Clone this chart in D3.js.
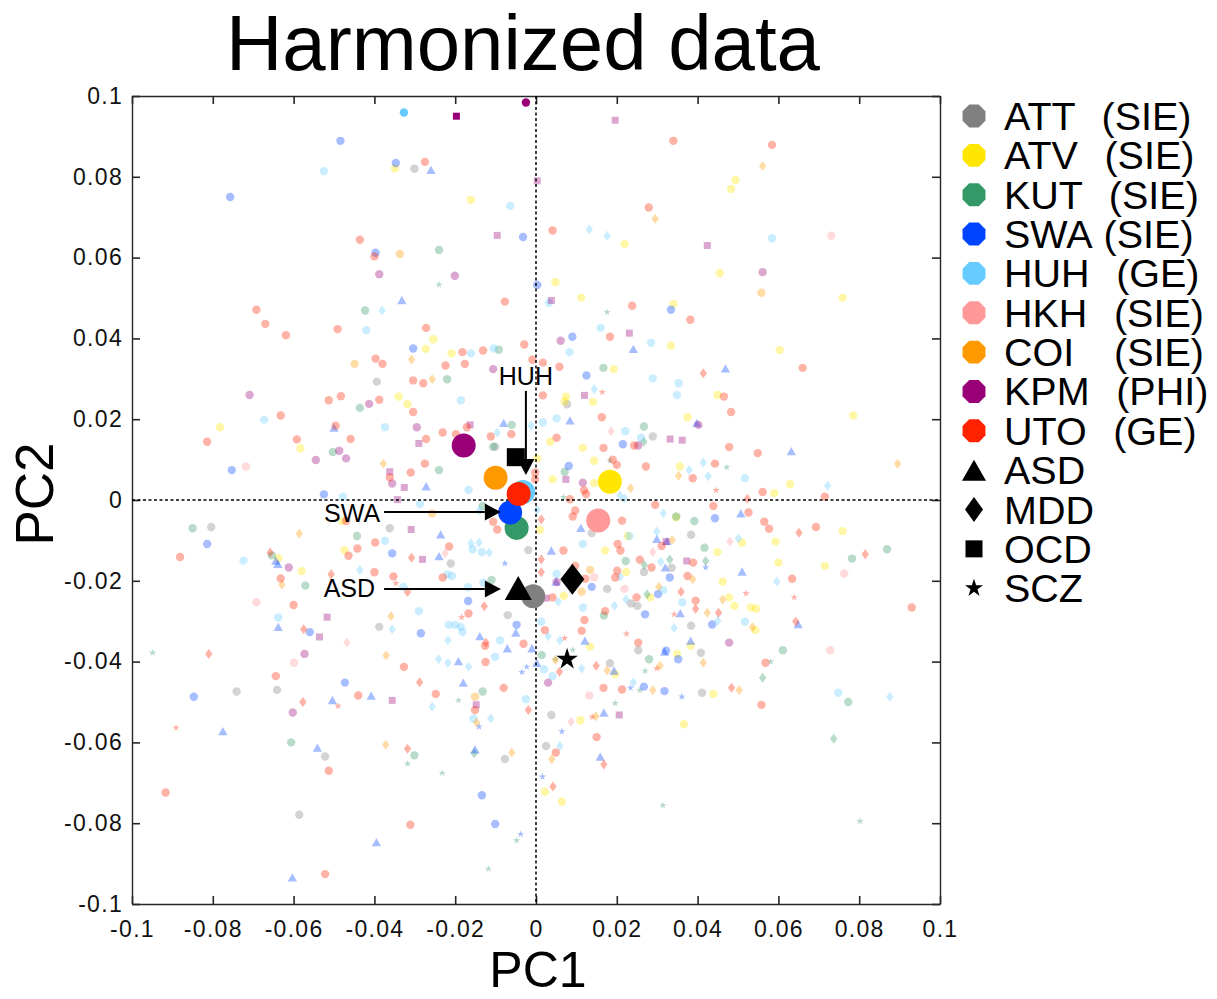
<!DOCTYPE html>
<html>
<head>
<meta charset="utf-8">
<title>Harmonized data</title>
<script src="https://d3js.org/d3.v7.min.js"></script>
<style>
  body { margin: 0; background: #fff; }
  svg text { font-family: "Liberation Sans", Arial, sans-serif; }
</style>
</head>
<body>
<svg id="chart" width="1217" height="999"></svg>
<script>
// cohorts (sites) and their colours
const cohorts = ["ATT", "ATV", "KUT", "SWA", "HUH", "HKH", "COI", "KPM", "UTO"];
const cohortLabels = ["ATT  (SIE)", "ATV  (SIE)", "KUT  (SIE)", "SWA (SIE)", "HUH  (GE)",
                      "HKH  (SIE)", "COI   (SIE)", "KPM  (PHI)", "UTO  (GE)"];
const cohortColors = ["#808080", "#ffe600", "#339966", "#0044ff", "#66ccff",
                      "#ff9999", "#ff9900", "#990077", "#ff2200"];
// disorders and their markers
const disorders = ["ASD", "MDD", "OCD", "SCZ"];
const disorderShapes = ["^", "d", "s", "p"];

// ticks
const tickValues = [-0.1, -0.08, -0.06, -0.04, -0.02, 0, 0.02, 0.04, 0.06, 0.08, 0.1];
const tickLabels = ["-0.1", "-0.08", "-0.06", "-0.04", "-0.02", "0", "0.02", "0.04", "0.06", "0.08", "0.1"];

// centroids [PC1, PC2]
const cohortCentroids = [
  [-0.0007, -0.0238], [0.0183, 0.0045], [-0.0048, -0.0069], [-0.0064, -0.0031], [-0.0032, 0.0020],
  [0.0154, -0.0051], [-0.0100, 0.0055], [-0.0179, 0.0135], [-0.0043, 0.0015]
];
const disorderCentroids = [[-0.0044, -0.0218], [0.0090, -0.0196], [-0.0050, 0.0106], [0.0077, -0.0394]];

// individual subjects [PC1, PC2, disorder marker]
const attPts = [
  [-0.0301,0.0820,"o"],[-0.0394,0.0293,"o"],[-0.0101,0.0132,"o"],[0.0077,0.0237,"o"],[0.0289,0.0157,"o"],
  [-0.0804,-0.0067,"o"],[-0.0362,-0.0070,"o"],[-0.0211,-0.0157,"o"],[-0.0019,-0.0124,"o"],[-0.0070,-0.0285,"o"],
  [-0.0388,-0.0314,"o"],[-0.0741,-0.0474,"o"],[-0.0641,-0.0470,"o"],[-0.0522,-0.0635,"o"],[-0.0077,-0.0641,"o"],
  [-0.0586,-0.0779,"o"],[0.0138,-0.0082,"o"],[0.0384,-0.0086,"o"],[0.0336,-0.0168,"o"],[0.0267,-0.0178,"o"],
  [0.0176,-0.0220,"o"],[0.0235,-0.0256,"o"],[0.0251,-0.0262,"o"],[0.0384,-0.0311,"o"],[0.0253,-0.0372,"o"],
  [0.0183,-0.0404,"o"],[0.0408,-0.0378,"o"],[0.0411,-0.0477,"o"],[0.0038,-0.0532,"o"],[0.0025,-0.0609,"o"]
];
const atvPts = [
  [-0.0349,0.0821,"o"],[-0.0161,0.0743,"o"],[0.0494,0.0792,"o"],[0.0483,0.0770,"o"],[0.0219,0.0634,"o"],
  [0.0455,0.0562,"o"],[0.0759,0.0501,"o"],[0.0048,0.0539,"o"],[0.0112,0.0501,"o"],[-0.0254,0.0398,"o"],
  [-0.0273,0.0374,"o"],[-0.0209,0.0363,"o"],[-0.0340,0.0256,"o"],[-0.0318,0.0237,"o"],[-0.0782,0.0180,"o"],
  [-0.0583,0.0128,"o"],[0.0340,0.0485,"o"],[0.0334,0.0382,"o"],[0.0603,0.0371,"o"],[0.0192,0.0324,"o"],
  [0.0074,0.0256,"o"],[0.0071,0.0244,"o"],[0.0141,0.0243,"o"],[0.0449,0.0260,"o"],[0.0785,0.0209,"o"],
  [0.0375,0.0205,"o"],[0.0035,0.0144,"o"],[0.0116,0.0129,"o"],[0.0003,0.0103,"o"],[0.0144,0.0097,"o"],
  [0.0356,0.0083,"o"],[0.0041,0.0051,"o"],[0.0144,0.0042,"o"],[0.0629,0.0039,"o"],[0.0590,0.0017,"o"],
  [-0.0480,-0.0052,"o"],[-0.0474,-0.0124,"o"],[-0.0638,-0.0144,"o"],[-0.0580,-0.0176,"o"],[0.0010,-0.0074,"o"],
  [0.0347,-0.0043,"o"],[0.0759,-0.0077,"o"],[0.0227,-0.0089,"o"],[0.0510,-0.0106,"o"],[0.0593,-0.0103,"o"],
  [0.0171,-0.0125,"o"],[0.0449,-0.0129,"o"],[0.0600,-0.0155,"o"],[0.0715,-0.0163,"o"],[0.0462,-0.0202,"o"],
  [0.0223,-0.0178,"o"],[0.0069,-0.0237,"o"],[0.0283,-0.0241,"o"],[0.0478,-0.0241,"o"],[0.0491,-0.0262,"o"],
  [0.0532,-0.0266,"o"],[0.0545,-0.0269,"o"],[0.0543,-0.0322,"o"],[0.0134,-0.0363,"o"],[0.0383,-0.0361,"o"],
  [0.0196,-0.0431,"o"],[0.0349,-0.0381,"o"],[0.0439,-0.0480,"o"],[0.0366,-0.0555,"o"],[0.0110,-0.0545,"o"],
  [0.0022,-0.0722,"o"],[0.0064,-0.0747,"o"]
];
const kutPts = [
  [-0.0240,0.0619,"o"],[-0.0240,0.0533,"p"],[-0.0423,0.0469,"o"],[-0.0092,0.0372,"o"],[-0.0220,0.0299,"o"],
  [-0.0436,0.0228,"o"],[-0.0060,0.0186,"o"],[-0.0106,0.0132,"o"],[-0.0503,0.0119,"o"],[-0.0240,0.0074,"o"],
  [0.0176,0.0465,"p"],[0.0167,0.0327,"o"],[0.0267,0.0182,"o"],[0.0267,0.0144,"d"],[0.0183,0.0098,"p"],
  [0.0472,0.0081,"p"],[0.0071,0.0070,"o"],[-0.0132,-0.0015,"o"],[-0.0850,-0.0070,"o"],[-0.0443,-0.0089,"o"],
  [-0.0654,-0.0137,"o"],[-0.0571,-0.0212,"o"],[-0.0110,-0.0198,"o"],[-0.0949,-0.0378,"p"],[-0.0132,-0.0474,"o"],
  [-0.0192,-0.0496,"p"],[-0.0606,-0.0600,"o"],[-0.0301,-0.0632,"o"],[-0.0318,-0.0653,"p"],[-0.0232,-0.0676,"p"],
  [-0.0153,-0.0627,"d"],[-0.0048,-0.0843,"p"],[-0.0118,-0.0913,"p"],[0.0068,0.0007,"p"],[0.0347,-0.0041,"o"],
  [0.0392,-0.0052,"o"],[0.0417,-0.0118,"o"],[0.0782,-0.0145,"o"],[0.0869,-0.0122,"o"],[0.0222,-0.0151,"o"],
  [0.0331,-0.0147,"d"],[0.0268,-0.0161,"d"],[0.0420,-0.0151,"d"],[0.0275,-0.0233,"d"],[0.0168,-0.0286,"o"],
  [0.0611,-0.0372,"o"],[0.0014,-0.0384,"o"],[0.0091,-0.0371,"p"],[0.0048,-0.0394,"p"],[0.0280,-0.0394,"o"],
  [0.0270,-0.0423,"p"],[0.0581,-0.0400,"p"],[0.0561,-0.0440,"d"],[0.0257,-0.0471,"p"],[0.0773,-0.0500,"o"],
  [0.0196,-0.0503,"p"],[0.0314,-0.0756,"p"],[0.0737,-0.0591,"d"],[0.0802,-0.0795,"p"]
];
const swaPts = [
  [-0.0484,0.0889,"o"],[-0.0347,0.0834,"o"],[-0.0260,0.0817,"^"],[-0.0757,0.0750,"o"],[-0.0032,0.0651,"o"],
  [-0.0397,0.0612,"o"],[0.0003,0.0532,"o"],[-0.0332,0.0495,"^"],[-0.0304,0.0375,"o"],[-0.0500,0.0179,"^"],
  [-0.0080,0.0191,"^"],[-0.0753,0.0074,"o"],[-0.0272,0.0034,"^"],[-0.0525,0.0014,"o"],[0.0334,0.0471,"o"],
  [0.0090,0.0404,"o"],[0.0241,0.0374,"^"],[0.0125,0.0308,"o"],[0.0469,0.0326,"^"],[0.0084,0.0197,"^"],
  [0.0398,0.0191,"^"],[0.0215,0.0138,"o"],[0.0632,0.0121,"^"],[0.0081,0.0084,"o"],[-0.0236,-0.0085,"^"],
  [-0.0814,-0.0109,"o"],[-0.0356,-0.0132,"o"],[-0.0240,-0.0139,"^"],[-0.0644,-0.0150,"^"],[-0.0639,-0.0158,"^"],
  [-0.0077,-0.0157,"p"],[-0.0168,-0.0250,"o"],[-0.0638,-0.0314,"^"],[-0.0560,-0.0327,"o"],[-0.0285,-0.0330,"o"],
  [-0.0139,-0.0337,"^"],[-0.0048,-0.0309,"o"],[-0.0050,-0.0328,"^"],[-0.0071,-0.0367,"^"],[-0.0010,-0.0367,"^"],
  [-0.0192,-0.0399,"^"],[-0.0023,-0.0413,"p"],[-0.0035,-0.0426,"p"],[0.0002,-0.0403,"^"],[-0.0473,-0.0452,"o"],
  [-0.0180,-0.0452,"^"],[-0.0847,-0.0487,"o"],[-0.0504,-0.0495,"^"],[-0.0408,-0.0484,"^"],[-0.0141,-0.0561,"p"],
  [-0.0775,-0.0572,"^"],[-0.0541,-0.0613,"^"],[-0.0151,-0.0617,"^"],[-0.0134,-0.0731,"o"],[-0.0101,-0.0802,"o"],
  [-0.0395,-0.0847,"^"],[-0.0038,-0.0827,"p"],[-0.0603,-0.0934,"^"],[0.0111,-0.0069,"^"],[0.0443,-0.0045,"o"],
  [0.0507,-0.0033,"^"],[0.0299,-0.0096,"^"],[0.0324,-0.0101,"^"],[0.0038,-0.0125,"^"],[0.0320,-0.0167,"^"],
  [0.0420,-0.0167,"p"],[0.0510,-0.0177,"^"],[0.0050,-0.0202,"^"],[0.0331,-0.0192,"o"],[0.0138,-0.0215,"o"],
  [0.0302,-0.0233,"o"],[0.0270,-0.0283,"o"],[0.0357,-0.0280,"^"],[0.0649,-0.0307,"^"],[0.0436,-0.0308,"o"],
  [0.0121,-0.0348,"^"],[0.0383,-0.0348,"^"],[0.0193,-0.0422,"^"],[0.0318,-0.0375,"^"],[0.0322,-0.0373,"o"],
  [0.0352,-0.0394,"o"],[0.0234,-0.0465,"p"],[0.0267,-0.0462,"o"],[0.0318,-0.0473,"o"],[0.0361,-0.0487,"p"],
  [0.0168,-0.0526,"^"],[0.0064,-0.0573,"p"],[0.0159,-0.0635,"^"],[0.0016,-0.0685,"p"]
];
const huhPts = [
  [-0.0525,0.0814,"o"],[-0.0064,0.0728,"o"],[0.0132,0.0670,"d"],[0.0176,0.0654,"d"],[0.0584,0.0648,"o"],
  [-0.0381,0.0469,"d"],[-0.0420,0.0420,"o"],[-0.0161,0.0363,"o"],[-0.0105,0.0375,"o"],[-0.0186,0.0247,"o"],
  [-0.0673,0.0199,"o"],[-0.0374,0.0180,"o"],[-0.0096,0.0167,"d"],[-0.0012,0.0184,"d"],[-0.0478,0.0008,"o"],
  [-0.0167,0.0025,"o"],[0.0032,0.0488,"o"],[0.0160,0.0426,"o"],[0.0083,0.0366,"o"],[0.0285,0.0389,"o"],
  [0.0289,0.0301,"o"],[0.0353,0.0289,"o"],[0.0144,0.0274,"d"],[0.0349,0.0260,"o"],[0.0017,0.0192,"o"],
  [0.0051,0.0202,"o"],[0.0221,0.0170,"o"],[0.0260,0.0154,"o"],[0.0379,0.0074,"d"],[0.0414,0.0093,"d"],
  [0.0426,0.0059,"d"],[0.0517,0.0054,"o"],[0.0722,0.0035,"d"],[0.0208,0.0012,"d"],[0.0219,0.0004,"d"],
  [-0.0287,-0.0010,"o"],[-0.0140,-0.0026,"d"],[-0.0374,-0.0101,"o"],[-0.0161,-0.0107,"d"],[-0.0141,-0.0105,"d"],
  [-0.0116,-0.0130,"d"],[-0.0157,-0.0122,"o"],[-0.0134,-0.0129,"o"],[-0.0724,-0.0150,"o"],[-0.0436,-0.0173,"d"],
  [-0.0328,-0.0215,"o"],[-0.0219,-0.0184,"o"],[-0.0208,-0.0188,"o"],[-0.0130,-0.0205,"o"],[-0.0168,-0.0216,"o"],
  [-0.0290,-0.0275,"o"],[-0.0638,-0.0291,"o"],[-0.0356,-0.0320,"d"],[-0.0216,-0.0309,"o"],[-0.0200,-0.0309,"o"],
  [-0.0186,-0.0314,"o"],[-0.0182,-0.0327,"o"],[-0.0218,-0.0347,"d"],[-0.0089,-0.0347,"o"],[-0.0101,-0.0388,"o"],
  [-0.0241,-0.0394,"d"],[-0.0218,-0.0403,"d"],[-0.0167,-0.0413,"d"],[-0.0257,-0.0512,"d"],[-0.0155,-0.0541,"o"],
  [-0.0112,-0.0541,"d"],[-0.0025,-0.0493,"o"],[0.0003,-0.0025,"d"],[0.0315,-0.0033,"d"],[0.0299,-0.0078,"d"],
  [0.0231,-0.0089,"o"],[0.0501,-0.0095,"d"],[0.0116,-0.0109,"o"],[0.0309,-0.0153,"d"],[0.0596,-0.0202,"d"],
  [0.0051,-0.0183,"o"],[0.0208,-0.0190,"d"],[0.0315,-0.0223,"o"],[0.0055,-0.0252,"d"],[0.0223,-0.0246,"d"],
  [0.0362,-0.0253,"o"],[0.0116,-0.0266,"o"],[0.0194,-0.0262,"d"],[0.0013,-0.0301,"o"],[0.0517,-0.0301,"o"],
  [0.0450,-0.0299,"d"],[0.0342,-0.0317,"d"],[0.0030,-0.0337,"d"],[0.0059,-0.0347,"d"],[0.0020,-0.0419,"o"],
  [0.0041,-0.0436,"o"],[0.0113,-0.0417,"d"],[0.0241,-0.0452,"d"],[0.0748,-0.0477,"o"],[0.0876,-0.0487,"d"],
  [0.0059,-0.0609,"d"]
];
const hkhPts = [
  [0.0731,0.0654,"o"],[-0.0718,0.0083,"o"],[0.0186,0.0170,"d"],[-0.0225,-0.0132,"d"],[-0.0692,-0.0253,"o"],
  [-0.0468,-0.0353,"d"],[-0.0599,-0.0403,"o"],[0.0480,-0.0103,"d"],[0.0289,-0.0129,"d"],[0.0763,-0.0182,"o"],
  [0.0144,-0.0191,"o"],[0.0219,-0.0220,"o"],[0.0728,-0.0372,"o"],[0.0132,-0.0484,"o"],[0.0087,-0.0549,"d"]
];
const coiPts = [
  [-0.0337,0.0609,"o"],[0.0561,0.0827,"d"],[0.0295,0.0696,"d"],[0.0558,0.0513,"o"],[-0.0449,0.0337,"o"],
  [-0.0308,0.0348,"d"],[-0.0257,0.0299,"d"],[-0.0378,0.0090,"d"],[0.0895,0.0090,"d"],[0.0353,0.0060,"d"],
  [0.0234,0.0029,"d"],[-0.0257,-0.0033,"o"],[-0.0586,-0.0083,"d"],[-0.0629,-0.0209,"d"],[-0.0359,-0.0288,"d"],
  [-0.0371,-0.0385,"d"],[-0.0151,-0.0487,"o"],[-0.0147,-0.0551,"d"],[-0.0372,-0.0606,"d"],[-0.0060,-0.0625,"d"],
  [0.0337,-0.0099,"d"],[0.0134,-0.0173,"o"],[0.0388,-0.0196,"d"],[0.0113,-0.0227,"o"],[0.0304,-0.0215,"d"],
  [0.0462,-0.0246,"d"],[0.0424,-0.0279,"d"],[0.0536,-0.0315,"d"],[0.0048,-0.0396,"d"],[0.0176,-0.0422,"d"],
  [0.0307,-0.0410,"d"],[0.0414,-0.0403,"d"],[0.0289,-0.0471,"d"],[0.0503,-0.0470,"d"],[0.0148,-0.0535,"d"],
  [0.0039,-0.0642,"d"]
];
const kpmPts = [
  [-0.0096,0.0655,"s"],[-0.0388,0.0559,"o"],[-0.0201,0.0555,"o"],[0.0003,0.0790,"s"],[0.0196,0.0940,"s"],
  [0.0424,0.0630,"s"],[0.0561,0.0564,"o"],[0.0038,0.0494,"s"],[-0.0106,0.0324,"o"],[-0.0709,0.0260,"o"],
  [-0.0413,0.0238,"o"],[-0.0295,0.0180,"o"],[-0.0163,0.0186,"s"],[-0.0290,0.0140,"s"],[-0.0487,0.0122,"o"],
  [-0.0545,0.0099,"o"],[-0.0470,0.0103,"o"],[-0.0362,0.0070,"s"],[-0.0356,0.0041,"o"],[-0.0326,0.0031,"s"],
  [-0.0343,0.0001,"s"],[0.0231,0.0413,"s"],[0.0061,0.0394,"o"],[0.0120,0.0259,"s"],[0.0402,0.0186,"o"],
  [0.0253,0.0135,"o"],[0.0332,0.0151,"s"],[0.0362,0.0148,"s"],[0.0074,0.0051,"s"],[0.0116,0.0043,"o"],
  [-0.0309,-0.0073,"s"],[-0.0281,-0.0147,"s"],[-0.0612,-0.0167,"o"],[-0.0517,-0.0290,"s"],[-0.0536,-0.0339,"s"],
  [-0.0573,-0.0381,"o"],[-0.0356,-0.0496,"s"],[-0.0148,-0.0507,"s"],[-0.0602,-0.0526,"o"],[0.0322,-0.0103,"s"],
  [0.0373,-0.0151,"s"],[0.0051,-0.0203,"o"],[0.0025,-0.0243,"s"],[0.0478,-0.0353,"o"],[0.0030,-0.0452,"o"],
  [0.0206,-0.0532,"s"]
];
const utoPts = [
  [-0.0275,0.0837,"o"],[-0.0436,0.0644,"o"],[-0.0400,0.0603,"o"],[0.0340,0.0889,"o"],[0.0584,0.0879,"o"],
  [0.0279,0.0724,"o"],[0.0041,0.0667,"o"],[-0.0077,0.0491,"o"],[-0.0692,0.0471,"o"],[-0.0670,0.0436,"o"],
  [-0.0619,0.0408,"o"],[-0.0491,0.0423,"o"],[-0.0272,0.0426,"o"],[-0.0182,0.0366,"o"],[-0.0131,0.0370,"o"],
  [-0.0029,0.0385,"o"],[-0.0009,0.0347,"o"],[-0.0397,0.0350,"o"],[-0.0380,0.0337,"o"],[-0.0224,0.0333,"o"],
  [-0.0176,0.0337,"o"],[-0.0304,0.0296,"o"],[-0.0279,0.0289,"o"],[-0.0513,0.0247,"o"],[-0.0483,0.0257,"o"],
  [-0.0388,0.0248,"o"],[-0.0304,0.0218,"o"],[-0.0632,0.0209,"o"],[-0.0496,0.0184,"o"],[-0.0231,0.0167,"o"],
  [-0.0198,0.0163,"o"],[-0.0171,0.0180,"o"],[-0.0061,0.0163,"o"],[-0.0814,0.0144,"o"],[-0.0592,0.0150,"o"],
  [-0.0459,0.0151,"o"],[-0.0272,0.0151,"o"],[-0.0112,0.0157,"o"],[-0.0275,0.0090,"o"],[-0.0310,0.0068,"o"],
  [-0.0362,0.0056,"o"],[0.0238,0.0481,"o"],[0.0382,0.0446,"o"],[0.0183,0.0404,"o"],[0.0017,0.0340,"o"],
  [0.0058,0.0330,"o"],[0.0414,0.0314,"d"],[0.0660,0.0327,"o"],[0.0017,0.0259,"o"],[0.0164,0.0267,"p"],
  [0.0465,0.0256,"o"],[0.0483,0.0218,"o"],[0.0163,0.0205,"o"],[0.0051,0.0154,"o"],[0.0243,0.0135,"o"],
  [0.0167,0.0129,"o"],[0.0478,0.0131,"o"],[0.0549,0.0116,"o"],[0.0190,0.0100,"o"],[0.0200,0.0087,"o"],
  [0.0272,0.0083,"o"],[0.0443,0.0090,"o"],[0.0388,0.0054,"o"],[-0.0002,0.0068,"o"],[-0.0002,0.0051,"o"],
  [0.0119,0.0024,"o"],[0.0124,0.0015,"o"],[0.0446,0.0024,"p"],[0.0561,0.0020,"o"],[0.0715,0.0008,"o"],
  [0.0523,0.0003,"d"],[-0.0470,-0.0052,"o"],[-0.0106,-0.0054,"o"],[-0.0096,-0.0073,"o"],[-0.0398,-0.0105,"o"],
  [-0.0442,-0.0120,"o"],[-0.0464,-0.0138,"o"],[-0.0215,-0.0115,"o"],[-0.0308,-0.0143,"d"],[-0.0881,-0.0141,"o"],
  [-0.0658,-0.0130,"d"],[-0.0632,-0.0194,"o"],[-0.0507,-0.0184,"d"],[-0.0400,-0.0179,"o"],[-0.0353,-0.0189,"o"],
  [-0.0347,-0.0206,"p"],[-0.0318,-0.0228,"d"],[-0.0231,-0.0192,"o"],[-0.0600,-0.0260,"o"],[-0.0128,-0.0263,"d"],
  [-0.0167,-0.0281,"o"],[-0.0184,-0.0290,"p"],[-0.0575,-0.0320,"d"],[-0.0124,-0.0353,"d"],[-0.0126,-0.0361,"o"],
  [-0.0031,-0.0356,"o"],[-0.0810,-0.0381,"d"],[-0.0125,-0.0401,"o"],[-0.0327,-0.0413,"o"],[-0.0644,-0.0436,"o"],
  [-0.0288,-0.0451,"d"],[-0.0080,-0.0465,"o"],[-0.0440,-0.0484,"o"],[-0.0248,-0.0480,"o"],[-0.0577,-0.0500,"d"],
  [-0.0490,-0.0510,"p"],[-0.0151,-0.0520,"o"],[-0.0019,-0.0520,"d"],[-0.0891,-0.0564,"p"],[-0.0513,-0.0670,"o"],
  [-0.0318,-0.0616,"d"],[-0.0917,-0.0724,"o"],[-0.0311,-0.0804,"o"],[-0.0522,-0.0926,"o"],[0.0084,0.0002,"o"],
  [0.0013,-0.0048,"d"],[0.0097,-0.0026,"o"],[0.0091,-0.0041,"o"],[0.0213,-0.0051,"o"],[0.0295,-0.0012,"o"],
  [0.0439,-0.0015,"o"],[0.0526,-0.0031,"o"],[0.0565,-0.0054,"o"],[0.0577,-0.0071,"o"],[0.0651,-0.0081,"d"],
  [0.0693,-0.0067,"o"],[0.0311,-0.0114,"o"],[0.0013,-0.0147,"d"],[0.0013,-0.0179,"d"],[0.0068,-0.0125,"o"],
  [0.0202,-0.0109,"o"],[0.0209,-0.0125,"o"],[0.0815,-0.0134,"d"],[0.0257,-0.0148,"o"],[0.0286,-0.0167,"o"],
  [0.0389,-0.0155,"o"],[0.0634,-0.0195,"o"],[0.0097,-0.0163,"o"],[0.0201,-0.0175,"o"],[0.0196,-0.0192,"o"],
  [0.0122,-0.0195,"o"],[0.0375,-0.0188,"o"],[0.0359,-0.0227,"d"],[0.0520,-0.0231,"p"],[0.0639,-0.0241,"p"],
  [0.0930,-0.0266,"o"],[0.0041,-0.0241,"o"],[0.0249,-0.0241,"o"],[0.0395,-0.0249,"o"],[0.0395,-0.0269,"d"],
  [0.0452,-0.0279,"d"],[0.0342,-0.0283,"p"],[0.0171,-0.0275,"o"],[0.0120,-0.0297,"o"],[0.0643,-0.0301,"d"],
  [0.0022,-0.0322,"o"],[0.0113,-0.0324,"o"],[0.0224,-0.0331,"p"],[0.0071,-0.0342,"p"],[0.0253,-0.0353,"o"],
  [0.0058,-0.0425,"d"],[0.0149,-0.0410,"d"],[0.0299,-0.0417,"p"],[0.0568,-0.0403,"o"],[0.0167,-0.0465,"o"],
  [0.0213,-0.0469,"o"],[0.0484,-0.0465,"d"],[0.0558,-0.0507,"o"],[0.0139,-0.0537,"p"],[0.0049,-0.0625,"o"],
  [0.0150,-0.0587,"o"],[0.0168,-0.0655,"d"],[0.0042,-0.0709,"d"]
];
const cohortPts = [attPts, atvPts, kutPts, swaPts, huhPts, hkhPts, coiPts, kpmPts, utoPts];
// a few subjects drawn fully opaque near the top edge [PC1, PC2, marker, cohort index]
const solidPts = [[-0.0327, 0.0959, "o", 4], [-0.0197, 0.0950, "s", 7], [-0.0025, 0.0984, "o", 7]];

// arrows: label, tail [PC1, PC2], tip [PC1, PC2]
const annotations = [
  {label: "HUH", tail: [-0.0025, 0.0270], tip: [-0.0025, 0.0062], anchor: "middle", dx: 0, dy: -6},
  {label: "SWA", tail: [-0.0376, -0.0030], tip: [-0.0087, -0.0030], anchor: "end", dx: -4, dy: 10},
  {label: "ASD", tail: [-0.0376, -0.0220], tip: [-0.0087, -0.0220], anchor: "end", dx: -9, dy: 8}
];

const svg = d3.select("#chart");
const x = d3.scaleLinear().domain([-0.1, 0.1]).range([132, 940]);
const y = d3.scaleLinear().domain([-0.1, 0.1]).range([904, 96]);

// marker paths
function tri(w, h) { return `M0,${-h / 2}L${w / 2},${h / 2}L${-w / 2},${h / 2}Z`; }
function dia(w, h) { return `M0,${-h / 2}L${w / 2},0L0,${h / 2}L${-w / 2},0Z`; }
function sq(s) { return `M${-s / 2},${-s / 2}h${s}v${s}h${-s}Z`; }
function circ(r) { return d3.symbol(d3.symbolCircle, Math.PI * r * r)(); }
function star(r) { return d3.symbol(d3.symbolStar, r * r / 0.8908130915292852)(); }
function octagon(R) {
  const pts = d3.range(8).map(k => {
    const a = Math.PI / 8 + k * Math.PI / 4;
    return [R * Math.cos(a), R * Math.sin(a)];
  });
  return "M" + pts.map(p => p.join(",")).join("L") + "Z";
}
function smallMarker(s) {
  if (s === "^") return tri(9.3, 8.3);
  if (s === "d") return dia(7.4, 10);
  if (s === "s") return sq(7);
  if (s === "p") return star(3.9);
  return circ(4.2);
}
function bigMarker(s) {
  if (s === "^") return tri(27, 24);
  if (s === "d") return dia(24, 31);
  if (s === "s") return sq(18);
  if (s === "p") return star(11.4);
  return circ(12);
}
function legendMarker(s) {
  if (s === "^") return tri(24, 21);
  if (s === "d") return dia(18, 25);
  if (s === "s") return sq(17);
  if (s === "p") return star(9.5);
  return octagon(12.4);
}

// subjects
cohortPts.forEach((pts, i) => {
  svg.append("g")
    .selectAll("path")
    .data(pts)
    .join("path")
    .attr("transform", d => `translate(${x(d[0])},${y(d[1])})`)
    .attr("d", d => smallMarker(d[2]))
    .attr("fill", cohortColors[i])
    .attr("fill-opacity", 0.35);
});
svg.append("g")
  .selectAll("path")
  .data(solidPts)
  .join("path")
  .attr("transform", d => `translate(${x(d[0])},${y(d[1])})`)
  .attr("d", d => smallMarker(d[2]))
  .attr("fill", d => cohortColors[d[3]]);

// axes: box with inward ticks
const axisBottom = d3.axisBottom(x).tickValues(tickValues).tickFormat((d, i) => tickLabels[i])
  .tickSizeInner(-8).tickSizeOuter(0).tickPadding(17);
const axisLeft = d3.axisLeft(y).tickValues(tickValues).tickFormat((d, i) => tickLabels[i])
  .tickSizeInner(-8).tickSizeOuter(0).tickPadding(9);
const axisTop = d3.axisTop(x).tickValues(tickValues).tickFormat("").tickSizeInner(-8).tickSizeOuter(0);
const axisRight = d3.axisRight(y).tickValues(tickValues).tickFormat("").tickSizeInner(-8).tickSizeOuter(0);

const gB = svg.append("g").attr("transform", "translate(0,904)").call(axisBottom);
const gL = svg.append("g").attr("transform", "translate(132,0)").call(axisLeft);
const gT = svg.append("g").attr("transform", "translate(0,96)").call(axisTop);
const gR = svg.append("g").attr("transform", "translate(940,0)").call(axisRight);
[gB, gL, gT, gR].forEach(g => {
  g.select(".domain").attr("stroke", "#262626").attr("stroke-width", 1.4);
  g.selectAll(".tick line").attr("stroke", "#262626").attr("stroke-width", 1.6);
  g.selectAll(".tick text")
    .attr("fill", "#111")
    .style("font-family", "'Liberation Sans', Arial, sans-serif")
    .style("font-size", "23px")
    .style("letter-spacing", "1.3px");
});

// zero lines
svg.append("line")
  .attr("x1", x(0)).attr("x2", x(0)).attr("y1", y(0.1)).attr("y2", y(-0.1))
  .attr("stroke", "#000").attr("stroke-width", 1.5).attr("stroke-dasharray", "3,2.5");
svg.append("line")
  .attr("x1", x(-0.1)).attr("x2", x(0.1)).attr("y1", y(0)).attr("y2", y(0))
  .attr("stroke", "#000").attr("stroke-width", 1.5).attr("stroke-dasharray", "3,2.5");

// centroids
svg.append("g")
  .selectAll("path")
  .data(cohortCentroids)
  .join("path")
  .attr("transform", d => `translate(${x(d[0])},${y(d[1])})`)
  .attr("d", bigMarker("o"))
  .attr("fill", (d, i) => cohortColors[i]);
svg.append("g")
  .selectAll("path")
  .data(disorderCentroids)
  .join("path")
  .attr("transform", d => `translate(${x(d[0])},${y(d[1])})`)
  .attr("d", (d, i) => bigMarker(disorderShapes[i]))
  .attr("fill", "#000");

// arrows
const ann = svg.append("g");
annotations.forEach(a => {
  const x0 = x(a.tail[0]), y0 = y(a.tail[1]), x1 = x(a.tip[0]), y1 = y(a.tip[1]);
  const ang = Math.atan2(y1 - y0, x1 - x0);
  const L = 16, W = 8.5;
  const bx = x1 - L * Math.cos(ang), by = y1 - L * Math.sin(ang);
  ann.append("line")
    .attr("x1", x0).attr("y1", y0).attr("x2", bx).attr("y2", by)
    .attr("stroke", "#000").attr("stroke-width", 2);
  ann.append("path")
    .attr("d", `M${x1},${y1}L${bx - W * Math.sin(ang)},${by + W * Math.cos(ang)}L${bx + W * Math.sin(ang)},${by - W * Math.cos(ang)}Z`)
    .attr("fill", "#000");
  ann.append("text")
    .attr("x", x0 + a.dx).attr("y", y0 + a.dy)
    .attr("text-anchor", a.anchor)
    .style("font-size", "25px")
    .text(a.label);
});

// legend
const legendItems = cohortLabels.map((t, i) => ({text: t, shape: "o", color: cohortColors[i]}))
  .concat(disorders.map((t, i) => ({text: t, shape: disorderShapes[i], color: "#000"})));
const leg = svg.append("g")
  .selectAll("g")
  .data(legendItems)
  .join("g")
  .attr("transform", (d, i) => `translate(974,${116 + i * 39.35})`);
leg.append("path").attr("d", d => legendMarker(d.shape)).attr("fill", d => d.color);
leg.append("text")
  .attr("x", 30).attr("y", 14)
  .style("font-size", "39.5px")
  .style("white-space", "pre")
  .style("word-spacing", "2.3px")
  .text(d => d.text);

// titles
svg.append("text")
  .attr("x", 523).attr("y", 70)
  .attr("text-anchor", "middle")
  .style("font-size", "78px")
  .text("Harmonized data");
svg.append("text")
  .attr("x", 538).attr("y", 987)
  .attr("text-anchor", "middle")
  .style("font-size", "50px")
  .text("PC1");
svg.append("text")
  .attr("transform", "translate(53,494) rotate(-90)")
  .attr("text-anchor", "middle")
  .style("font-size", "53px")
  .text("PC2");
</script>
</body>
</html>
